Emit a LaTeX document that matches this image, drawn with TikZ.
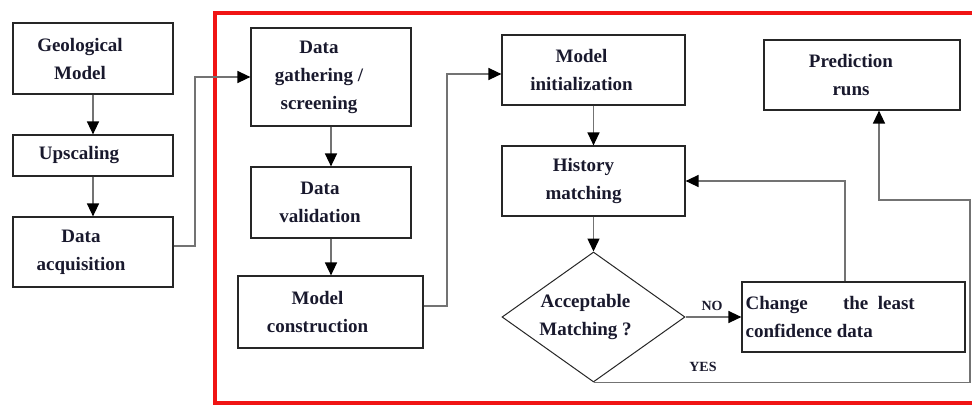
\documentclass[tikz,border=0pt]{standalone}
\usepackage{fontspec}
\setmainfont{Liberation Serif}
\usetikzlibrary{shapes.geometric,arrows.meta}
\definecolor{txt}{RGB}{25,25,45}
\definecolor{frame}{RGB}{240,20,20}
\begin{document}
\begin{tikzpicture}[x=1pt,y=-1pt,
  box/.style={draw=black!85,line width=1.2pt,inner sep=0pt},
  tx/.style={inner sep=0pt,align=center,text=txt,font=\fontsize{19}{28}\selectfont\bfseries},
  conn/.style={draw=black!55,line width=1.4pt},
  arr/.style={conn,-{Triangle[length=13pt,width=12pt,color=black]}},
  lbl/.style={text=txt,font=\fontsize{14}{16}\selectfont\bfseries,inner sep=0pt}
]
\useasboundingbox (0,0) rectangle (972,405);
\fill[white] (0,0) rectangle (972,405);
% red frame
\draw[frame,line width=4pt] (985,13) -- (215,13) -- (215,403) -- (985,403);

% left column
\node[box,minimum width=160,minimum height=71] (geo) at (93,58.5) {};
\node[box,minimum width=160,minimum height=41] (up) at (93,155.5) {};
\node[box,minimum width=160,minimum height=70] (acq) at (93,252) {};
\node[tx] (geot) at ([xshift=-13pt]geo.center) {Geological\\Model};
\node[tx] (upt) at ([xshift=-14pt]up.center) {Upscaling};
\node[tx] (acqt) at ([xshift=-12pt]acq.center) {Data\\acquisition};

% middle column
\node[box,minimum width=160,minimum height=98] (gath) at (331,77) {};
\node[box,minimum width=160,minimum height=71] (val) at (331,202.5) {};
\node[box,minimum width=185,minimum height=72] (cons) at (330.5,312) {};
\node[tx] (gatht) at ([xshift=-12pt]gath.center) {Data\\gathering /\\screening};
\node[tx] (valt) at ([xshift=-11pt]val.center) {Data\\validation};
\node[tx] (const) at ([xshift=-13pt]cons.center) {Model\\construction};

% right part
\node[box,minimum width=183,minimum height=70] (init) at (593.5,70) {};
\node[box,minimum width=183,minimum height=70] (hist) at (593.5,181) {};
\node[box,shape=diamond,line width=1pt,minimum width=183,minimum height=130] (dia) at (593.5,317) {};
\node[box,minimum width=223,minimum height=70] (chg) at (853.5,317) {};
\node[box,minimum width=196,minimum height=70] (pred) at (862,75) {};
\node[tx] (initt) at ([xshift=-12pt]init.center) {Model\\initialization};
\node[tx] (histt) at ([xshift=-10pt]hist.center) {History\\matching};
\node[tx] (diat) at ([xshift=-8pt]dia.center) {Acceptable\\Matching ?};
\node[tx,align=left,anchor=west] (chgt) at ([xshift=4pt]chg.west) {Change\hspace{1.6em} the\ \ least\\confidence data};
\node[tx] (predt) at ([xshift=-11pt]pred.center) {Prediction\\runs};

% connectors
\draw[arr] (geo.south) -- (up.north);
\draw[arr] (up.south) -- (acq.north);
\draw[arr] ([yshift=6pt]acq.east) -- (195,246) |- (gath.west);
\draw[arr] (gath.south) -- (val.north);
\draw[arr] (val.south) -- (val.south |- cons.north);
\coordinate (c1) at (447,306);
\draw[arr] ([yshift=6pt]cons.east) -- (c1) |- ([yshift=-4pt]init.west);
\draw[arr] (init.south) -- (hist.north);
\draw[arr] (hist.south) -- (dia.north);
\draw[arr] (dia.east) -- (chg.west |- dia.east);
\draw[arr] ([xshift=-8.5pt]chg.north) |- (hist.east);
\coordinate (c2) at (970,200);
\draw[arr] (dia.south) -| (c2) -| ([xshift=17pt]pred.south);

% labels
\node[lbl] (no) at (712,306) {NO};
\node[lbl] (yes) at (703,367) {YES};
\end{tikzpicture}
\end{document}
